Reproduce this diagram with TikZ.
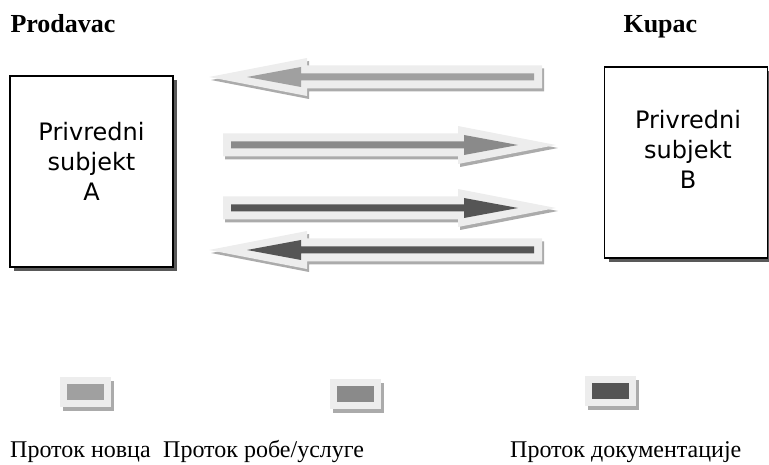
\documentclass[tikz,border=0pt]{standalone}
\usepackage{fontspec}
\setmainfont{Liberation Serif}
\newfontfamily\boxfont{DejaVu Sans}
\usetikzlibrary{shadows}

\definecolor{glow}{HTML}{EDEDED}
\definecolor{glowshade}{HTML}{ABABAB}
\definecolor{money}{HTML}{A0A0A0}
\definecolor{goods}{HTML}{8A8A8A}
\definecolor{docs}{HTML}{555555}

\tikzset{
  party/.style={draw, line width=1.3pt, fill=white, minimum width=163pt, minimum height=191pt,
    drop shadow={shadow xshift=4pt, shadow yshift=-4pt, fill=black!65, opacity=1}},
  partytext/.style={font=\boxfont\fontsize{24}{30}\selectfont, align=center},
  heading/.style={anchor=base west, font=\bfseries\fontsize{26}{30}\selectfont},
  keybox/.style={fill=glow, minimum width=51pt, minimum height=30pt, inner sep=0pt,
    drop shadow={shadow xshift=3pt, shadow yshift=-4pt, fill=glowshade, opacity=1}},
  keyfill/.style={minimum width=37pt, minimum height=16pt, inner sep=0pt},
  keytext/.style={anchor=base west, inner sep=0pt, font=\fontsize{24}{28}\selectfont}
}

\begin{document}
\begin{tikzpicture}[x=1pt, y=-1pt]
  \useasboundingbox (0,0) rectangle (769,465);

  \node[heading] (seller) at (7,33) {Prodavac};
  \node[heading] (buyer) at (620,33) {Kupac};

  \node[party] (subjA) at (91.5,171.5) {};
  \node[party] (subjB) at (686,162.5) {};
  \node[partytext] (txtA) at (91.5,161) {Privredni\\subjekt\\A};
  \node[partytext] (txtB) at (688,149) {Privredni\\subjekt\\B};

  % flows: y / direction / tail x / colour
  \foreach \y/\d/\tail/\col in {77/-1/542/money, 145/1/223/goods, 208/1/223/docs, 250/-1/542/docs}{
    \begin{scope}[shift={(\tail+2,\y+3)}, xscale=\d]
      \fill[glowshade] (0,-11.5) -- (235,-11.5) -- (235,-19) -- (333,0) -- (235,19) -- (235,11.5) -- (0,11.5) -- cycle;
    \end{scope}
    \begin{scope}[shift={(\tail,\y)}, xscale=\d]
      \fill[glow] (0,-11.5) -- (235,-11.5) -- (235,-19) -- (333,0) -- (235,19) -- (235,11.5) -- (0,11.5) -- cycle;
      \fill[\col] (8,-3.5) -- (241,-3.5) -- (241,-10) -- (295,0) -- (241,10) -- (241,3.5) -- (8,3.5) -- cycle;
    \end{scope}
  }

  \node[keybox] (keyMoney) at (85,392) {};
  \node[keybox] (keyGoods) at (355,394) {};
  \node[keybox] (keyDocs) at (610.5,391) {};
  \node[keyfill, fill=money] at (keyMoney) {};
  \node[keyfill, fill=goods] at (keyGoods) {};
  \node[keyfill, fill=docs] at (keyDocs) {};

  \node[keytext] (lblMoney) at (10,457) {Проток новца};
  \node[keytext] (lblGoods) at (163,457) {Проток робе/услуге};
  \node[keytext] (lblDocs) at (510,457) {Проток документације};
\end{tikzpicture}
\end{document}
